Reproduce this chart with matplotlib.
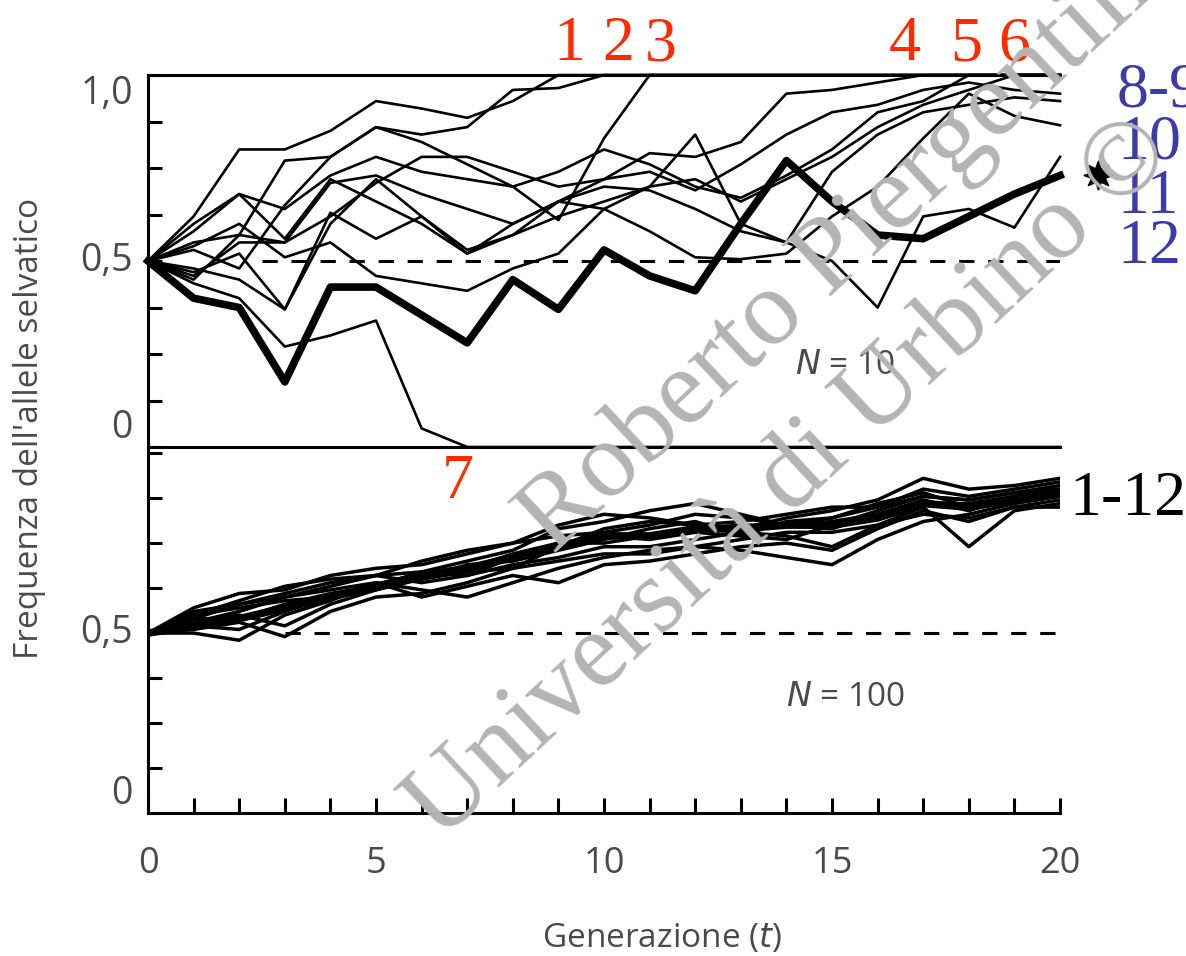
"""Deriva genetica: frequenza dell'allele selvatico, N = 10 e N = 100"""
import matplotlib
matplotlib.use("Agg")
import matplotlib.pyplot as plt
from matplotlib.ticker import MultipleLocator

generations = list(range(21))

# N = 10, dodici popolazioni (la 11 e' quella in grassetto)
n10_pop1 = [0.5, 0.62, 0.80, 0.80, 0.85, 0.93, 0.91, 0.885, 0.93, 1.0] + [1.0] * 11
n10_pop2 = [0.5, 0.55, 0.57, 0.77, 0.78, 0.86, 0.84, 0.86, 0.96, 0.965, 1.0] + [1.0] * 10
n10_pop3 = [0.5, 0.58, 0.68, 0.64, 0.73, 0.78, 0.74, 0.72, 0.70, 0.61, 0.83, 1.0] + [1.0] * 9
n10_pop4 = [0.5, 0.45, 0.57, 0.55, 0.71, 0.73, 0.68, 0.64, 0.60, 0.66, 0.72, 0.79,
            0.78, 0.82, 0.95, 0.96, 0.98, 1.0, 1.0, 1.0, 1.0]
n10_pop5 = [0.5, 0.53, 0.48, 0.65, 0.78, 0.86, 0.82, 0.76, 0.70, 0.74, 0.80, 0.76,
            0.70, 0.67, 0.73, 0.80, 0.90, 0.93, 1.0, 1.0, 1.0]
n10_pop6 = [0.5, 0.47, 0.52, 0.37, 0.60, 0.72, 0.62, 0.52, 0.60, 0.66, 0.64, 0.70,
            0.72, 0.66, 0.72, 0.78, 0.86, 0.92, 0.96, 1.0, 1.0]
n10_pop7 = [0.5, 0.44, 0.40, 0.27, 0.30, 0.34, 0.05] + [0.0] * 14
n10_pop8 = [0.5, 0.46, 0.55, 0.55, 0.62, 0.71, 0.78, 0.78, 0.74, 0.70, 0.72, 0.74,
            0.69, 0.76, 0.84, 0.90, 0.92, 0.96, 0.98, 0.96, 0.95]
n10_pop9 = [0.5, 0.60, 0.68, 0.56, 0.72, 0.66, 0.60, 0.52, 0.57, 0.62, 0.66, 0.70,
            0.84, 0.60, 0.55, 0.74, 0.84, 0.90, 0.92, 0.94, 0.93]
n10_pop10 = [0.5, 0.54, 0.60, 0.51, 0.55, 0.46, 0.44, 0.42, 0.48, 0.52, 0.64, 0.58,
             0.51, 0.505, 0.52, 0.62, 0.70, 0.83, 0.95, 0.89, 0.865]
n10_pop11 = [0.5, 0.40, 0.375, 0.175, 0.43, 0.43, 0.355, 0.28, 0.45, 0.37, 0.53, 0.46,
             0.42, 0.60, 0.77, 0.66, 0.57, 0.56, 0.62, 0.68, 0.73]
n10_pop12 = [0.5, 0.48, 0.45, 0.37, 0.63, 0.56, 0.62, 0.53, 0.57, 0.66, 0.70, 0.69,
             0.64, 0.58, 0.55, 0.50, 0.375, 0.62, 0.64, 0.59, 0.78]

# N = 100
n100_pop1 = [0.5, 0.56, 0.58, 0.60, 0.63, 0.66, 0.67, 0.70, 0.73, 0.79, 0.81, 0.84,
             0.86, 0.83, 0.80, 0.82, 0.85, 0.90, 0.88, 0.90, 0.92]
n100_pop2 = [0.5, 0.53, 0.55, 0.52, 0.58, 0.62, 0.66, 0.68, 0.72, 0.75, 0.75, 0.77,
             0.79, 0.80, 0.80, 0.79, 0.83, 0.87, 0.84, 0.88, 0.90]
n100_pop3 = [0.5, 0.55, 0.59, 0.63, 0.65, 0.66, 0.64, 0.66, 0.69, 0.71, 0.74, 0.74,
             0.76, 0.78, 0.77, 0.74, 0.80, 0.85, 0.74, 0.84, 0.86]
n100_pop4 = [0.5, 0.52, 0.51, 0.56, 0.60, 0.62, 0.65, 0.69, 0.70, 0.73, 0.76, 0.79,
             0.81, 0.77, 0.76, 0.80, 0.84, 0.88, 0.87, 0.89, 0.91]
n100_pop5 = [0.5, 0.50, 0.48, 0.55, 0.59, 0.64, 0.62, 0.60, 0.64, 0.68, 0.71, 0.73,
             0.74, 0.73, 0.71, 0.69, 0.76, 0.81, 0.83, 0.86, 0.88]
n100_pop6 = [0.5, 0.57, 0.61, 0.62, 0.66, 0.68, 0.69, 0.72, 0.75, 0.77, 0.78, 0.80,
             0.83, 0.82, 0.80, 0.81, 0.83, 0.86, 0.86, 0.88, 0.89]
n100_pop7 = [0.5, 0.54, 0.54, 0.58, 0.61, 0.63, 0.67, 0.66, 0.71, 0.75, 0.77, 0.76,
             0.78, 0.77, 0.81, 0.82, 0.86, 0.89, 0.85, 0.87, 0.88]
n100_pop8 = [0.5, 0.51, 0.53, 0.49, 0.56, 0.60, 0.61, 0.64, 0.68, 0.70, 0.72, 0.72,
             0.74, 0.76, 0.78, 0.78, 0.80, 0.83, 0.82, 0.85, 0.87]
n100_pop9 = [0.5, 0.55, 0.57, 0.59, 0.60, 0.63, 0.65, 0.67, 0.68, 0.74, 0.79, 0.81,
             0.80, 0.79, 0.82, 0.84, 0.87, 0.93, 0.90, 0.91, 0.93]
n100_pop10 = [0.5, 0.53, 0.56, 0.60, 0.62, 0.64, 0.60, 0.63, 0.66, 0.64, 0.69, 0.70,
              0.72, 0.74, 0.75, 0.73, 0.79, 0.84, 0.81, 0.85, 0.85]
n100_pop11 = [0.5, 0.52, 0.54, 0.57, 0.60, 0.63, 0.66, 0.68, 0.71, 0.74, 0.77, 0.77,
              0.79, 0.79, 0.80, 0.80, 0.82, 0.86, 0.85, 0.87, 0.89]
n100_pop12 = [0.5, 0.54, 0.58, 0.61, 0.64, 0.66, 0.70, 0.73, 0.75, 0.80, 0.83, 0.82,
              0.80, 0.81, 0.83, 0.85, 0.85, 0.88, 0.87, 0.89, 0.90]

n10_runs = [n10_pop1, n10_pop2, n10_pop3, n10_pop4, n10_pop5, n10_pop6,
            n10_pop7, n10_pop8, n10_pop9, n10_pop10, n10_pop11, n10_pop12]
n100_runs = [n100_pop1, n100_pop2, n100_pop3, n100_pop4, n100_pop5, n100_pop6,
             n100_pop7, n100_pop8, n100_pop9, n100_pop10, n100_pop11, n100_pop12]
bold_run = 10  # indice della popolazione 11

x_ticks = [0, 5, 10, 15, 20]
x_tick_labels = ["0", "5", "10", "15", "20"]
y_ticks = [0, 0.5, 1.0]
y_tick_labels = ["0", "0,5", "1,0"]

fixed_labels = ["1", "2", "3", "4", "5", "6"]
lost_label = "7"
free_labels = ["8-9", "10", "11", "12"]
all_label = "1-12"

# posizioni (in generazioni / frequenza) delle etichette colorate
fixed_label_x = [9.25, 10.3, 11.25, 16.6, 17.95, 19.0]
lost_label_x = 6.8
free_label_y = [0.955, 0.815, 0.67, 0.535]

GREY = "#4a4a4a"
RED = "#ff2a00"
BLUE = "#3c3ca8"
SANS = ["Open Sans", "DejaVu Sans"]
SERIF = ["Liberation Serif", "DejaVu Serif"]

fig = plt.figure(figsize=(11.86, 9.56), dpi=100)
ax_top = fig.add_axes([0.1248, 0.5324, 0.769, 0.3891])
ax_bot = fig.add_axes([0.1248, 0.1496, 0.769, 0.3828], sharex=ax_top)


def style_axis(ax, labels, aligns):
    ax.set_xlim(0, 20)
    ax.spines["right"].set_visible(False)
    for side in ("left", "bottom", "top"):
        ax.spines[side].set_linewidth(2.2)
    ax.yaxis.set_minor_locator(MultipleLocator(0.125))
    ax.set_yticks(y_ticks[:len(labels)])
    ax.set_yticklabels(labels, family=SANS, fontsize=27, color=GREY)
    for lab, va in zip(ax.get_yticklabels(), aligns):
        lab.set_va(va)
    ax.tick_params(axis="y", which="both", direction="in", length=10, width=2.2, pad=11)
    ax.set_facecolor("none")


# pannello N = 10
style_axis(ax_top, y_tick_labels, ["bottom", "center", "top"])
ax_top.set_ylim(0, 1)
ax_top.tick_params(axis="x", which="both", bottom=False, labelbottom=False)
ax_top.axhline(0.5, xmin=2.5 / 20, color="black", lw=2.2, ls=(0, (5, 4.5)))
for i, run in enumerate(n10_runs):
    lw = 5.5 if i == bold_run else 1.9
    ax_top.plot(generations, run, color="black", lw=lw, clip_on=False)
ax_top.text(15.28, 0.22, "$\\it{N}$ = 10", family=SANS, fontsize=24, color=GREY,
            ha="center", va="center")

# pannello N = 100
style_axis(ax_bot, y_tick_labels[:2], ["bottom", "center"])
ax_bot.set_ylim(0, 1.017)
ax_bot.spines["top"].set_visible(False)
ax_bot.axhline(0.5, xmin=3 / 20, color="black", lw=2.2, ls=(0, (5, 4.5)))
for i, run in enumerate(n100_runs):
    lw = 5.5 if i == bold_run else 2.5
    ax_bot.plot(generations, run, color="black", lw=lw)
ax_bot.text(15.3, 0.322, "$\\it{N}$ = 100", family=SANS, fontsize=24, color=GREY,
            ha="center", va="center")
ax_bot.set_xticks(x_ticks)
ax_bot.set_xticklabels(x_tick_labels, family=SANS, fontsize=26, color=GREY)
ax_bot.xaxis.set_minor_locator(MultipleLocator(1))
ax_bot.tick_params(axis="x", which="both", direction="in", length=11, width=2.2, pad=24)

fig.text(30 / 1186, 1 - 428 / 956, "Frequenza dell'allele selvatico", rotation=90,
         family=SANS, fontsize=24, color=GREY, ha="center", va="center")
fig.text(662 / 1186, 1 - 938 / 956, "Generazione ($\\it{t}$)", family=SANS,
         fontsize=24, color=GREY, ha="center", va="center")

# etichette delle popolazioni
for lab, xl in zip(fixed_labels, fixed_label_x):
    ax_top.text(xl, 1.04, lab, family=SERIF, fontsize=46, color=RED,
                ha="center", va="baseline", clip_on=False)
ax_top.text(lost_label_x, -0.02, lost_label, family=SERIF, fontsize=46,
            color=RED, ha="center", va="top", clip_on=False)
for lab, v in zip(free_labels, free_label_y):
    ax_top.text(21.25, v, lab, family=SERIF, fontsize=46, color=BLUE,
                ha="left", va="center", clip_on=False)
ax_top.plot([20.83], [n10_pop11[-1]], marker=(8, 1, 0), color="black",
            markersize=21, clip_on=False)
ax_bot.text(20.2, 0.87, all_label, family=SERIF, fontsize=46, color="black",
            ha="left", va="center", clip_on=False)

# filigrana
wm = dict(family=SERIF, fontsize=78, color="#b4b4b4", rotation=43,
          rotation_mode="anchor", ha="left", va="baseline")
fig.text(553 / 1186, 1 - 555 / 956, "Roberto Piergentili", **wm)
fig.text(440 / 1186, 1 - 842 / 956, "Università di Urbino ©", **wm)

fig.savefig("out.png", dpi=100)
